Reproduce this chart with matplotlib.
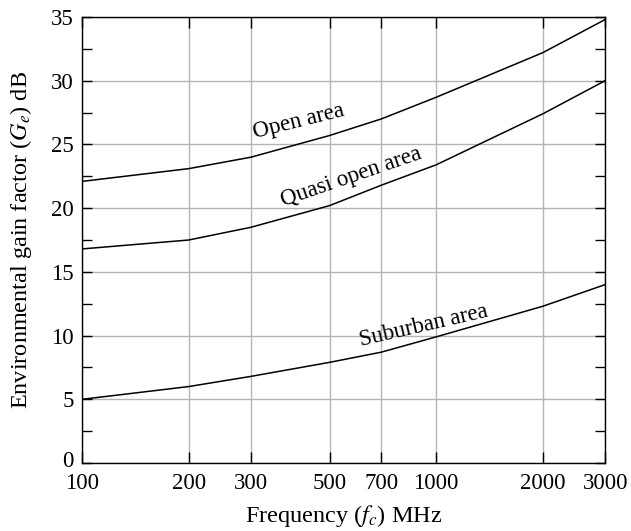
import matplotlib
matplotlib.use("Agg")
import matplotlib.pyplot as plt
import matplotlib.transforms as mtransforms
from matplotlib.ticker import FixedLocator, NullFormatter, NullLocator

plt.rcParams["font.family"] = ["Liberation Serif", "DejaVu Serif"]
plt.rcParams["mathtext.fontset"] = "stix"

freq_mhz = [100, 200, 300, 500, 700, 1000, 2000, 3000]
open_area = [22.1, 23.1, 24.0, 25.7, 27.0, 28.7, 32.2, 34.8]
quasi_open_area = [16.8, 17.5, 18.5, 20.2, 21.8, 23.4, 27.4, 30.0]
suburban_area = [5.0, 6.0, 6.8, 7.9, 8.7, 9.9, 12.3, 14.0]

x_ticks = [100, 200, 300, 500, 700, 1000, 2000, 3000]
y_ticks = [0, 5, 10, 15, 20, 25, 30, 35]
y_minor = [2.5, 7.5, 12.5, 17.5, 22.5, 27.5, 32.5]

fig = plt.figure(figsize=(6.31, 5.31), dpi=100)
ax = fig.add_axes([0.130, 0.128, 0.829, 0.840])

for series in (open_area, quasi_open_area, suburban_area):
    ax.plot(freq_mhz, series, color="black", lw=1.1, zorder=3)

ax.set_xscale("log")
ax.set_xlim(100, 3000)
ax.set_ylim(0, 35)
ax.xaxis.set_major_locator(FixedLocator(x_ticks))
ax.xaxis.set_minor_locator(NullLocator())
ax.xaxis.set_minor_formatter(NullFormatter())
ax.set_xticklabels([str(t) for t in x_ticks])
ax.yaxis.set_major_locator(FixedLocator(y_ticks))
ax.yaxis.set_minor_locator(FixedLocator(y_minor))

ax.grid(True, which="major", color="#b4b4b4", lw=1.0, zorder=0)
ax.tick_params(which="both", direction="in", top=True, right=True,
               labelsize=16.5, width=1.0, colors="black")
ax.tick_params(axis="x", which="major", length=8, pad=7)
ax.tick_params(axis="y", which="major", length=7, pad=6)
ax.tick_params(axis="y", which="minor", length=7)
for s in ax.spines.values():
    s.set_linewidth(1.0)

# lift the "0" label a little so it clears the "100" below it
zero_label = ax.yaxis.get_majorticklabels()[0]
zero_label.set_transform(zero_label.get_transform()
                         + mtransforms.ScaledTranslation(0, 3 / 72, fig.dpi_scale_trans))

ax.set_xlabel(r"Frequency ($f_c$) MHz", fontsize=17.5, labelpad=7)
ax.set_ylabel(r"Environmental gain factor ($G_e$) dB", fontsize=17.5, labelpad=12)

ax.text(410, 26.8, "Open area", fontsize=16.5, rotation=14,
        ha="center", va="center")
ax.text(575, 22.4, "Quasi open area", fontsize=16.5, rotation=19,
        ha="center", va="center")
ax.text(920, 10.8, "Suburban area", fontsize=16.5, rotation=13,
        ha="center", va="center")

fig.savefig("out.png", dpi=100)
